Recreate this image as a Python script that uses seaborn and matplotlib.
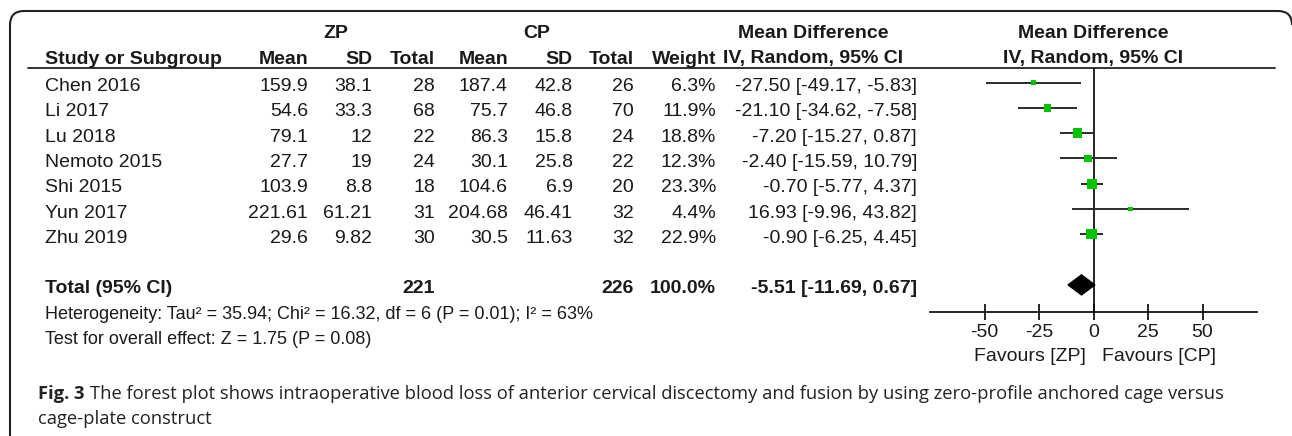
import matplotlib
matplotlib.use("Agg")
import matplotlib.pyplot as plt
import pandas as pd
import seaborn as sns
from matplotlib.patches import PathPatch
from matplotlib.path import Path

# study data (ZP = zero-profile cage, CP = cage-plate)
studies = ["Chen 2016", "Li 2017", "Lu 2018", "Nemoto 2015", "Shi 2015", "Yun 2017", "Zhu 2019"]
zp_mean = [159.9, 54.6, 79.1, 27.7, 103.9, 221.61, 29.6]
zp_sd = [38.1, 33.3, 12, 19, 8.8, 61.21, 9.82]
zp_total = [28, 68, 22, 24, 18, 31, 30]
cp_mean = [187.4, 75.7, 86.3, 30.1, 104.6, 204.68, 30.5]
cp_sd = [42.8, 46.8, 15.8, 25.8, 6.9, 46.41, 11.63]
cp_total = [26, 70, 24, 22, 20, 32, 32]
weights = [6.3, 11.9, 18.8, 12.3, 23.3, 4.4, 22.9]
mean_diff = [-27.50, -21.10, -7.20, -2.40, -0.70, 16.93, -0.90]
ci_low = [-49.17, -34.62, -15.27, -15.59, -5.77, -9.96, -6.25]
ci_high = [-5.83, -7.58, 0.87, 10.79, 4.37, 43.82, 4.45]

total_zp, total_cp, total_weight = 221, 226, 100.0
pooled_md, pooled_low, pooled_high = -5.51, -11.69, 0.67
xticks = [-50, -25, 0, 25, 50]

heterogeneity = "Heterogeneity: Tau² = 35.94; Chi² = 16.32, df = 6 (P = 0.01); I² = 63%"
overall = "Test for overall effect: Z = 1.75 (P = 0.08)"
caption_bold = "Fig. 3"
caption_lines = [
    "The forest plot shows intraoperative blood loss of anterior cervical discectomy and fusion by using zero-profile anchored cage versus",
    "cage-plate construct",
]

df = pd.DataFrame({
    "study": studies, "md": mean_diff, "lo": ci_low, "hi": ci_high, "weight": weights,
})
df["row"] = range(len(df))
total_row = len(df) + 1

sns.set_theme(style="white")
plt.rcParams["font.family"] = ["Liberation Sans", "DejaVu Sans"]
plt.rcParams["axes.unicode_minus"] = False

W, H = 1292, 436
TXT = "#1a1a1a"
FS = 14
ROW_Y = 86.5      # text centre of first row (px)
MARK_Y = 82.5     # marker centre of first row (px)
STEP = 25.3

fig = plt.figure(figsize=(W / 100, H / 100), dpi=100)
lay = fig.add_axes([0, 0, 1, 1])
lay.set_xlim(0, W)
lay.set_ylim(H, 0)
lay.axis("off")

# frame: left side + top with rounded corners, right side runs off the picture
fl, ft, fr, rad = 10, 11, 1292, 14
frame = Path(
    [(fl, H + 5), (fl, ft + rad), (fl, ft), (fl + rad, ft), (fr - rad, ft), (fr, ft), (fr, ft + rad)],
    [Path.MOVETO, Path.LINETO, Path.CURVE3, Path.CURVE3, Path.LINETO, Path.CURVE3, Path.CURVE3],
)
lay.add_patch(PathPatch(frame, fill=False, ec="#222222", lw=1.5))


def t(x, y, s, ha="left", bold=False, fs=FS):
    lay.text(x, y, s, ha=ha, va="center", fontsize=fs, color=TXT,
             fontweight="bold" if bold else "normal")


# headers
t(336, 33, "ZP", ha="center", bold=True)
t(537, 33, "CP", ha="center", bold=True)
t(813, 33, "Mean Difference", ha="center", bold=True)
t(1093, 33, "Mean Difference", ha="center", bold=True)
t(45, 59, "Study or Subgroup", bold=True)
for x, lab in [(308, "Mean"), (372, "SD"), (435, "Total"), (508, "Mean"), (573, "SD"),
               (634, "Total"), (716, "Weight")]:
    t(x, 59, lab, ha="right", bold=True)
t(813, 59, "IV, Random, 95% CI", ha="center", bold=True)
t(1093, 59, "IV, Random, 95% CI", ha="center", bold=True)
lay.plot([28, 1275], [68, 68], color="#222222", lw=1.3)

# study rows
for i, r in enumerate(studies):
    y = ROW_Y + STEP * i
    t(45, y, r)
    t(308, y, f"{zp_mean[i]:g}", ha="right")
    t(372, y, f"{zp_sd[i]:g}", ha="right")
    t(435, y, f"{zp_total[i]}", ha="right")
    t(508, y, f"{cp_mean[i]:g}", ha="right")
    t(573, y, f"{cp_sd[i]:g}", ha="right")
    t(634, y, f"{cp_total[i]}", ha="right")
    t(716, y, f"{weights[i]:.1f}%", ha="right")
    t(917, y, f"{mean_diff[i]:.2f} [{ci_low[i]:.2f}, {ci_high[i]:.2f}]", ha="right")

y = ROW_Y + STEP * total_row
t(45, y, "Total (95% CI)", bold=True)
t(435, y, f"{total_zp}", ha="right", bold=True)
t(634, y, f"{total_cp}", ha="right", bold=True)
t(716, y, f"{total_weight:.1f}%", ha="right", bold=True)
t(917, y, f"{pooled_md:.2f} [{pooled_low:.2f}, {pooled_high:.2f}]", ha="right", bold=True)
t(45, y + STEP, heterogeneity, fs=13)
t(45, y + 2 * STEP, overall, fs=13)

# forest panel
x0_px, x1_px, top_px, axis_px = 930, 1257, 68, 312
ax = fig.add_axes([x0_px / W, 1 - axis_px / H, (x1_px - x0_px) / W, (axis_px - top_px) / H])
ax.set_facecolor("none")
ax.set_xlim(-75, 75)
ax.set_ylim((axis_px - MARK_Y) / STEP, (top_px - MARK_Y) / STEP)

ax.hlines(df["row"], df["lo"], df["hi"], color="#2b2b2b", lw=1.4, zorder=2)
sns.scatterplot(data=df, x="md", y="row", size="weight", sizes=(0, 56), size_norm=(0, max(weights)),
                marker="s", color="#00c400", edgecolor="none", linewidth=0, legend=False,
                ax=ax, zorder=3)
h = 10 / STEP
ax.fill([pooled_low, pooled_md, pooled_high, pooled_md],
        [total_row, total_row - h, total_row, total_row + h], color="black", zorder=3)
ax.axvline(0, color="black", lw=1.2, zorder=1)

for s in ["top", "right", "left"]:
    ax.spines[s].set_visible(False)
ax.spines["bottom"].set_color("black")
ax.spines["bottom"].set_linewidth(1.2)
ax.set_xticks(xticks)
ax.set_xticklabels([str(v) for v in xticks])
ax.set_yticks([])
ax.set_xlabel("")
ax.set_ylabel("")
ax.tick_params(axis="x", direction="inout", length=11, width=1.2, pad=3, labelsize=FS,
               labelcolor=TXT, color="black", bottom=True)

t(1093 - 7, 356, "Favours [ZP]", ha="right")
t(1093 + 9, 356, "Favours [CP]")

# caption
cap_font = ["Open Sans", "DejaVu Sans"]
cap_fs = 13.2
cb = lay.text(38, 394, caption_bold, ha="left", va="center", fontsize=cap_fs, fontweight="bold",
              family=cap_font, color="#222222")
renderer = fig.canvas.get_renderer()
bb = cb.get_window_extent(renderer)
lay.text(bb.x1 + 5, 394, caption_lines[0], ha="left", va="center", fontsize=cap_fs,
         family=cap_font, color="#222222")
lay.text(38, 419, caption_lines[1], ha="left", va="center", fontsize=cap_fs,
         family=cap_font, color="#222222")

fig.savefig("out.png", dpi=100)
